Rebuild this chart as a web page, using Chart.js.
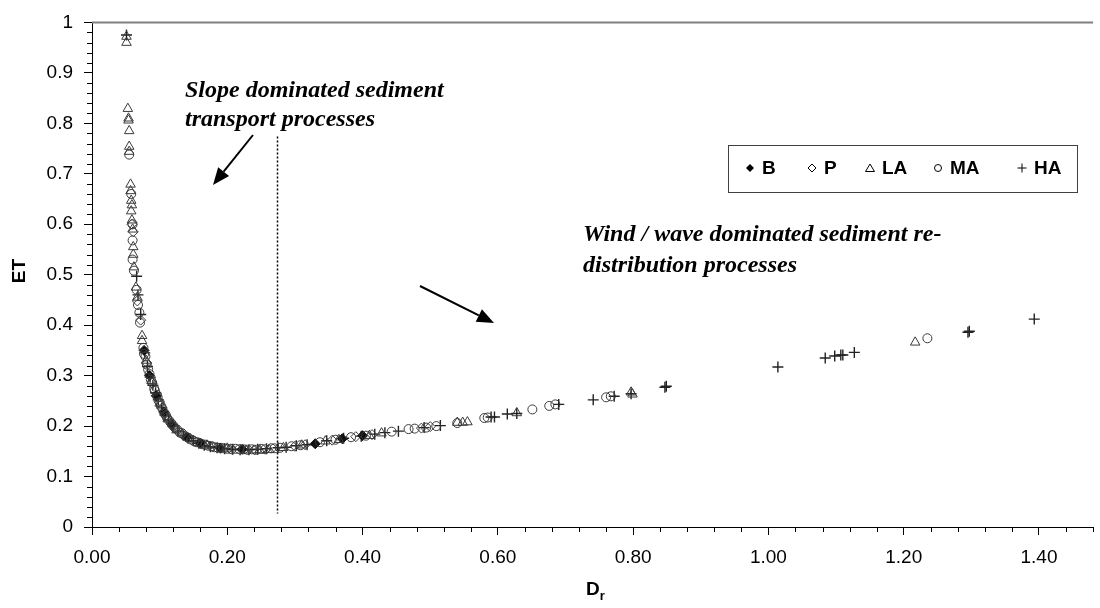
<!DOCTYPE html>
<html>
<head>
<meta charset="utf-8">
<script src="https://cdn.jsdelivr.net/npm/chart.js@4.4.0/dist/chart.umd.min.js"></script>
<style>
  html, body { margin: 0; padding: 0; background: #fff; }
</style>
</head>
<body>
<canvas id="myChart" width="1100" height="608"></canvas>
<script>
// series values as [Dr, ET]
var B = [[0.077,0.35],[0.085,0.30],[0.095,0.26],[0.106,0.228],[0.118,0.203],[0.140,0.178],
  [0.160,0.166],[0.190,0.156],[0.222,0.154],[0.330,0.165],[0.370,0.175],[0.400,0.181]];

var P = [[0.059,0.600],[0.061,0.585],[0.067,0.448],[0.072,0.410],[0.081,0.325],[0.089,0.285],
  [0.099,0.248],[0.109,0.220],[0.119,0.200],[0.133,0.184],[0.152,0.170],[0.178,0.159],
  [0.205,0.155],[0.240,0.153],[0.300,0.160],[0.315,0.163],[0.355,0.172],[0.390,0.179],
  [0.414,0.183],[0.487,0.196],[0.500,0.199]];

var LA = [[0.051,0.972],[0.051,0.960],[0.053,0.829],[0.054,0.810],[0.054,0.806],[0.055,0.785],
  [0.055,0.754],[0.055,0.744],[0.057,0.679],[0.057,0.666],[0.058,0.647],[0.059,0.638],
  [0.058,0.626],[0.059,0.608],[0.060,0.590],[0.061,0.555],[0.061,0.540],[0.062,0.515],
  [0.065,0.475],[0.067,0.455],[0.074,0.379],[0.074,0.369],[0.080,0.330],[0.088,0.290],
  [0.100,0.245],[0.112,0.214],[0.125,0.192],[0.145,0.175],[0.170,0.162],[0.200,0.156],
  [0.228,0.152],[0.248,0.152],[0.262,0.153],[0.283,0.157],[0.310,0.162],[0.345,0.170],
  [0.365,0.173],[0.410,0.181],[0.428,0.186],[0.540,0.207],[0.548,0.207],[0.555,0.208],
  [0.628,0.226],[0.797,0.267],[0.799,0.263],[1.217,0.366]];

var MA = [[0.055,0.738],[0.058,0.660],[0.060,0.600],[0.060,0.568],[0.060,0.530],[0.062,0.508],
  [0.066,0.470],[0.068,0.440],[0.070,0.425],[0.071,0.405],[0.076,0.355],[0.077,0.343],
  [0.079,0.338],[0.081,0.322],[0.083,0.312],[0.085,0.303],[0.087,0.292],[0.089,0.286],
  [0.092,0.274],[0.093,0.270],[0.096,0.262],[0.097,0.257],[0.100,0.247],[0.102,0.240],
  [0.104,0.235],[0.107,0.226],[0.109,0.222],[0.111,0.216],[0.114,0.211],[0.117,0.206],
  [0.120,0.201],[0.123,0.196],[0.126,0.193],[0.130,0.187],[0.133,0.186],[0.138,0.180],
  [0.142,0.177],[0.147,0.173],[0.151,0.170],[0.155,0.168],[0.160,0.166],[0.163,0.164],
  [0.168,0.163],[0.172,0.161],[0.177,0.160],[0.181,0.158],[0.186,0.157],[0.190,0.157],
  [0.195,0.156],[0.200,0.155],[0.206,0.154],[0.212,0.155],[0.218,0.154],[0.224,0.154],
  [0.230,0.153],[0.236,0.154],[0.243,0.153],[0.250,0.155],[0.256,0.154],[0.265,0.156],
  [0.270,0.156],[0.278,0.157],[0.295,0.160],[0.308,0.162],[0.337,0.168],[0.360,0.173],
  [0.383,0.178],[0.405,0.181],[0.443,0.189],[0.468,0.194],[0.477,0.195],[0.494,0.197],
  [0.509,0.200],[0.540,0.206],[0.580,0.216],[0.585,0.217],[0.651,0.233],[0.676,0.240],
  [0.685,0.243],[0.760,0.257],[0.767,0.259],[1.235,0.374]];

var HA = [[0.051,0.975],[0.066,0.497],[0.068,0.460],[0.072,0.421],[0.078,0.345],[0.082,0.318],
  [0.086,0.297],[0.090,0.281],[0.094,0.266],[0.098,0.252],[0.103,0.236],[0.108,0.222],
  [0.113,0.212],[0.120,0.200],[0.127,0.190],[0.135,0.182],[0.142,0.176],[0.150,0.171],
  [0.158,0.166],[0.166,0.162],[0.175,0.159],[0.185,0.157],[0.196,0.155],[0.208,0.154],
  [0.219,0.153],[0.232,0.153],[0.245,0.154],[0.258,0.155],[0.275,0.157],[0.287,0.158],
  [0.302,0.161],[0.318,0.163],[0.347,0.171],[0.372,0.176],[0.398,0.180],[0.418,0.184],
  [0.433,0.187],[0.453,0.190],[0.491,0.197],[0.515,0.201],[0.590,0.218],[0.595,0.218],
  [0.614,0.224],[0.628,0.225],[0.690,0.243],[0.741,0.252],[0.772,0.259],[0.797,0.264],
  [0.847,0.277],[0.849,0.279],[1.014,0.317],[1.084,0.335],[1.098,0.339],[1.107,0.341],
  [1.110,0.341],[1.127,0.346],[1.295,0.386],[1.297,0.388],[1.393,0.412]];

// axis ticks
var xTicks = [0, 0.2, 0.4, 0.6, 0.8, 1.0, 1.2, 1.4];
var yTicks = [0, 0.1, 0.2, 0.3, 0.4, 0.5, 0.6, 0.7, 0.8, 0.9, 1];
var legendNames = ['B', 'P', 'LA', 'MA', 'HA'];

var sans = '"Liberation Sans", Arial, sans-serif';
var serif = '"Liberation Serif", "Times New Roman", serif';

function pts(arr) {
  return arr.map(function (p) { return { x: p[0], y: p[1] }; });
}

// small marker drawer for the hand-made legend
function marker(ctx, kind, x, y) {
  ctx.save();
  ctx.strokeStyle = '#000';
  ctx.fillStyle = '#000';
  ctx.lineWidth = 1;
  ctx.beginPath();
  if (kind === 'B' || kind === 'P') {
    ctx.moveTo(x, y - 4); ctx.lineTo(x + 4, y); ctx.lineTo(x, y + 4); ctx.lineTo(x - 4, y); ctx.closePath();
    if (kind === 'B') ctx.fill(); else ctx.stroke();
  } else if (kind === 'LA') {
    ctx.moveTo(x, y - 4); ctx.lineTo(x + 4.5, y + 3.5); ctx.lineTo(x - 4.5, y + 3.5); ctx.closePath(); ctx.stroke();
  } else if (kind === 'MA') {
    ctx.arc(x, y, 3.5, 0, Math.PI * 2); ctx.stroke();
  } else {
    ctx.moveTo(x - 4.5, y); ctx.lineTo(x + 4.5, y); ctx.moveTo(x, y - 4.5); ctx.lineTo(x, y + 4.5); ctx.stroke();
  }
  ctx.restore();
}

function arrow(ctx, x1, y1, x2, y2) {
  var a = Math.atan2(y2 - y1, x2 - x1);
  var len = 17, half = 7;
  var bx = x2 - len * Math.cos(a), by = y2 - len * Math.sin(a);
  ctx.save();
  ctx.strokeStyle = '#000';
  ctx.fillStyle = '#000';
  ctx.lineWidth = 2;
  ctx.beginPath(); ctx.moveTo(x1, y1); ctx.lineTo(bx, by); ctx.stroke();
  ctx.beginPath();
  ctx.moveTo(x2, y2);
  ctx.lineTo(bx + half * Math.sin(a), by - half * Math.cos(a));
  ctx.lineTo(bx - half * Math.sin(a), by + half * Math.cos(a));
  ctx.closePath(); ctx.fill();
  ctx.restore();
}

var extras = {
  id: 'extras',
  afterDraw: function (chart) {
    var ctx = chart.ctx, xs = chart.scales.x, ys = chart.scales.y, a = chart.chartArea;
    ctx.save();

    // grey frame line on top
    ctx.strokeStyle = '#808080';
    ctx.lineWidth = 2;
    ctx.beginPath(); ctx.moveTo(a.left, a.top); ctx.lineTo(a.right, a.top); ctx.stroke();

    // minor ticks
    ctx.strokeStyle = '#000';
    ctx.lineWidth = 1;
    ctx.beginPath();
    for (var i = 1; i < 50; i++) {
      if (i % 5 === 0) continue;
      var py = Math.round(ys.getPixelForValue(i * 0.02)) + 0.5;
      ctx.moveTo(a.left - 5, py); ctx.lineTo(a.left, py);
    }
    for (var j = 1; j <= 37; j++) {
      if (j % 5 === 0) continue;
      var px = Math.round(xs.getPixelForValue(j * 0.04)) + 0.5;
      ctx.moveTo(px, a.bottom); ctx.lineTo(px, a.bottom + 5);
    }
    ctx.stroke();

    // dotted divider
    ctx.setLineDash([2, 2]);
    ctx.lineWidth = 1.5;
    ctx.beginPath();
    var dx = Math.round(xs.getPixelForValue(0.273)) + 0.5;
    ctx.moveTo(dx, ys.getPixelForValue(0.774));
    ctx.lineTo(dx, ys.getPixelForValue(0.027));
    ctx.stroke();
    ctx.setLineDash([]);

    // annotations
    ctx.fillStyle = '#000';
    ctx.font = 'bold italic 24px ' + serif;
    ctx.textAlign = 'left';
    ctx.textBaseline = 'alphabetic';
    ctx.fillText('Slope dominated sediment', 185, 97);
    ctx.fillText('transport processes', 185, 126);
    arrow(ctx, 253, 135, 213, 185);

    ctx.fillText('Wind / wave dominated sediment re-', 583, 241);
    ctx.fillText('distribution processes', 583, 272);
    arrow(ctx, 420, 286, 494, 323);

    // legend box
    ctx.fillStyle = '#fff';
    ctx.fillRect(728, 145, 349, 47);
    ctx.strokeStyle = '#404040';
    ctx.lineWidth = 1;
    ctx.strokeRect(728.5, 145.5, 349, 47);
    var lx = [750, 812, 870, 938, 1022];
    ctx.font = 'bold 19px ' + sans;
    ctx.fillStyle = '#000';
    ctx.textBaseline = 'middle';
    legendNames.forEach(function (n, k) {
      marker(ctx, n, lx[k], 168);
      ctx.fillStyle = '#000';
      ctx.fillText(n, lx[k] + 12, 169);
    });

    // axis titles
    ctx.font = 'bold 19px ' + sans;
    ctx.textAlign = 'center';
    ctx.save();
    ctx.translate(20, 271);
    ctx.rotate(-Math.PI / 2);
    ctx.fillText('ET', 0, 0);
    ctx.restore();
    ctx.textAlign = 'left';
    ctx.fillText('D', 586, 590);
    var w = ctx.measureText('D').width;
    ctx.font = 'bold 13px ' + sans;
    ctx.fillText('r', 586 + w, 596);

    ctx.restore();
  }
};

var common = { showLine: false, borderWidth: 1 };

var ctx = document.getElementById('myChart').getContext('2d');
var myChart = new Chart(ctx, {
  type: 'scatter',
  data: {
    datasets: [
      Object.assign({ label: 'MA', data: pts(MA), pointStyle: 'circle', pointRadius: 4.5,
        borderColor: '#3a3a3a', backgroundColor: 'rgba(0,0,0,0)' }, common),
      Object.assign({ label: 'LA', data: pts(LA), pointStyle: 'triangle', pointRadius: 5.5,
        borderColor: '#3a3a3a', backgroundColor: 'rgba(0,0,0,0)' }, common),
      Object.assign({ label: 'P', data: pts(P), pointStyle: 'rectRot', pointRadius: 5,
        borderColor: '#3a3a3a', backgroundColor: 'rgba(0,0,0,0)' }, common),
      Object.assign({ label: 'B', data: pts(B), pointStyle: 'rectRot', pointRadius: 5,
        borderColor: '#111', backgroundColor: '#111' }, common),
      Object.assign({ label: 'HA', data: pts(HA), pointStyle: 'cross', pointRadius: 5.5,
        borderColor: '#222', backgroundColor: '#222' }, common, { borderWidth: 1.4 })
    ]
  },
  options: {
    responsive: false,
    animation: false,
    layout: { padding: { top: 16, right: 3, left: 0, bottom: 0 } },
    plugins: { legend: { display: false }, tooltip: { enabled: false } },
    scales: {
      x: {
        type: 'linear', min: 0, max: 1.48,
        afterFit: function (s) { s.height = 81; },
        afterBuildTicks: function (s) { s.ticks = xTicks.map(function (v) { return { value: v }; }); },
        grid: { drawOnChartArea: false, drawTicks: true, tickLength: 8, color: '#000' },
        border: { color: '#000', width: 1 },
        ticks: { padding: 11, color: '#000', font: { family: sans, size: 19 },
          maxRotation: 0, autoSkip: false,
          callback: function (v) { return Number(v).toFixed(2); } }
      },
      y: {
        min: 0, max: 1,
        afterFit: function (s) { s.width = 92; },
        afterBuildTicks: function (s) { s.ticks = yTicks.map(function (v) { return { value: v }; }); },
        grid: { drawOnChartArea: false, drawTicks: true, tickLength: 8, color: '#000' },
        border: { color: '#000', width: 1 },
        ticks: { padding: 11, color: '#000', font: { family: sans, size: 19 }, autoSkip: false,
          callback: function (v) { return String(Math.round(v * 10) / 10); } }
      }
    }
  },
  plugins: [extras]
});
</script>
</body>
</html>
